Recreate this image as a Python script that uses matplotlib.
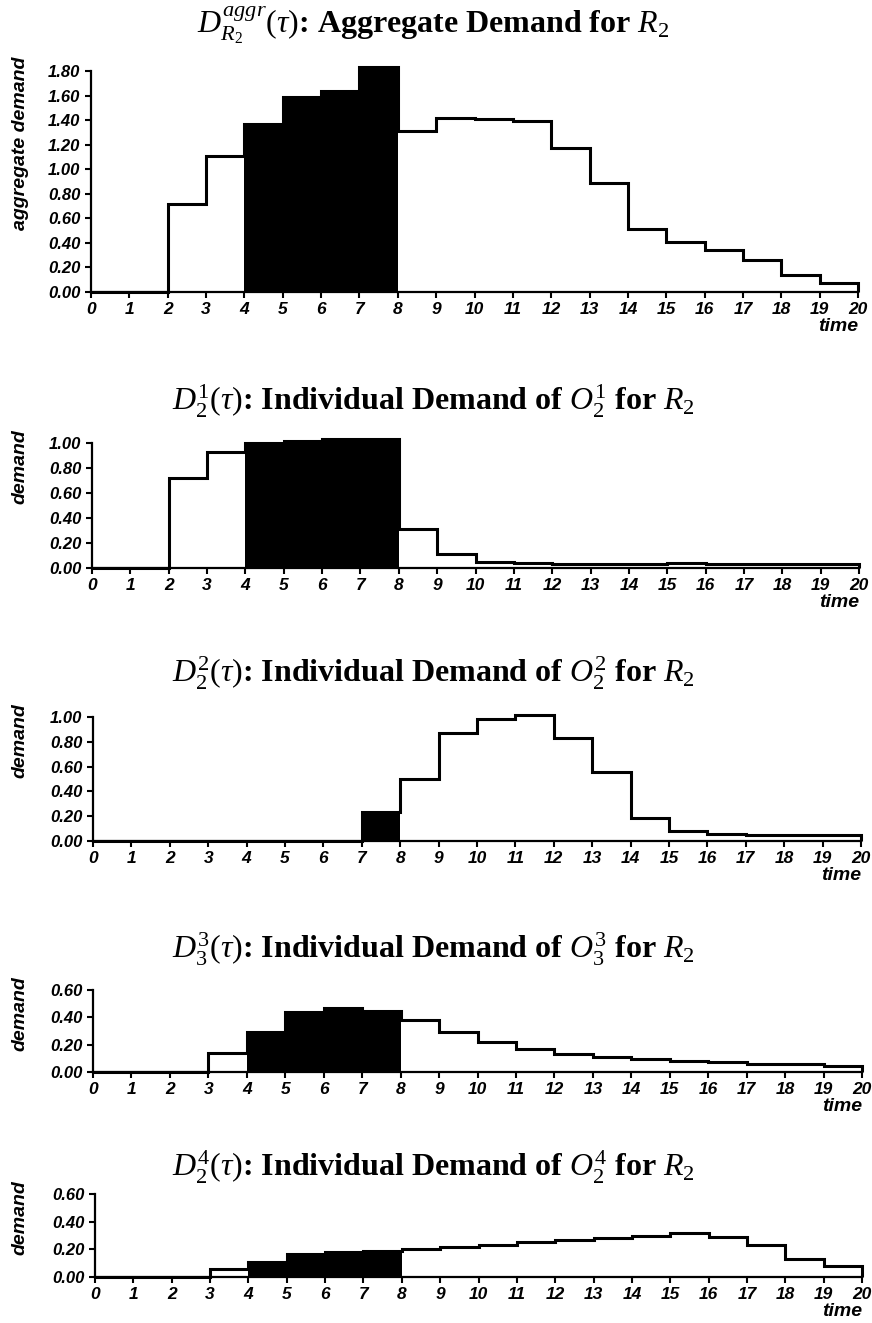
import numpy as np
import matplotlib
matplotlib.use("Agg")
import matplotlib.pyplot as plt

plt.rcParams["mathtext.fontset"] = "custom"
plt.rcParams["mathtext.rm"] = "Liberation Serif"
plt.rcParams["mathtext.it"] = "Liberation Serif:italic"
plt.rcParams["mathtext.bf"] = "Liberation Serif:bold"

# Datos: demanda por intervalo de tiempo (0..20)
tiempo = np.arange(0, 21)

demanda_agregada = [0, 0, 0.72, 1.11, 1.37, 1.59, 1.64, 1.83, 1.31, 1.42,
                    1.41, 1.39, 1.17, 0.89, 0.51, 0.41, 0.34, 0.26, 0.14, 0.07]
demanda_o1 = [0, 0, 0.72, 0.93, 1.00, 1.02, 1.03, 1.03, 0.31, 0.11,
              0.05, 0.04, 0.03, 0.03, 0.03, 0.04, 0.03, 0.03, 0.03, 0.03]
demanda_o2 = [0, 0, 0, 0, 0, 0, 0, 0.23, 0.50, 0.87,
              0.98, 1.02, 0.83, 0.56, 0.185, 0.08, 0.055, 0.045, 0.045, 0.045]
demanda_o3 = [0, 0, 0, 0.14, 0.29, 0.44, 0.47, 0.45, 0.38, 0.29,
              0.22, 0.17, 0.135, 0.11, 0.093, 0.08, 0.07, 0.06, 0.055, 0.047]
demanda_o4 = [0, 0, 0, 0.06, 0.11, 0.165, 0.18, 0.19, 0.205, 0.22,
              0.23, 0.25, 0.265, 0.28, 0.30, 0.32, 0.29, 0.23, 0.13, 0.08]

titulos = [
    r"$D^{aggr}_{R_2}(\tau)$: Aggregate Demand for $R_2$",
    r"$D^{1}_{2}(\tau)$: Individual Demand of $O^{1}_{2}$ for $R_2$",
    r"$D^{2}_{2}(\tau)$: Individual Demand of $O^{2}_{2}$ for $R_2$",
    r"$D^{3}_{3}(\tau)$: Individual Demand of $O^{3}_{3}$ for $R_2$",
    r"$D^{4}_{2}(\tau)$: Individual Demand of $O^{4}_{2}$ for $R_2$",
]
etiquetas_y = ["aggregate demand", "demand", "demand", "demand", "demand"]
series = [demanda_agregada, demanda_o1, demanda_o2, demanda_o3, demanda_o4]
maximos_y = [1.8, 1.0, 1.0, 0.6, 0.6]
tramos_negros = [(4, 8), (4, 8), (7, 8), (4, 8), (4, 8)]

# Posiciones de los ejes en pixeles (izq, der, cero, tope) y linea base del titulo
W, H = 872, 1323
cajas = [(91, 858, 292, 71), (92, 859, 568, 443), (93, 861, 841, 717),
         (93, 862, 1072, 990), (95, 862, 1277, 1194)]
base_titulo = [33, 410, 683, 958, 1177]

fig = plt.figure(figsize=(W / 100, H / 100), dpi=100)

for i in range(5):
    izq, der, cero, tope = cajas[i]
    ax = fig.add_axes([izq / W, 1 - cero / H, (der - izq) / W, (cero - tope) / H])
    valores = np.array(series[i])
    a, b = tramos_negros[i]
    ax.stairs(valores[a:b], tiempo[a:b + 1], fill=True, color="black",
              clip_on=False, zorder=2)
    ax.stairs(valores, tiempo, baseline=0, fill=False, color="black",
              linewidth=2.2, clip_on=False, zorder=3)

    ax.set_xlim(0, 20)
    ax.set_ylim(0, maximos_y[i])
    ax.set_xticks(tiempo)
    ax.set_yticks(np.arange(0, maximos_y[i] + 0.01, 0.2))
    ax.set_yticklabels([f"{v:.2f}" for v in np.arange(0, maximos_y[i] + 0.01, 0.2)])
    for s in ["top", "right"]:
        ax.spines[s].set_visible(False)
    for s in ["left", "bottom"]:
        ax.spines[s].set_linewidth(1.6)
    ax.tick_params(axis="both", direction="out", length=4, width=1.5)
    for lab in ax.get_xticklabels():
        lab.set_fontfamily("Liberation Sans")
        lab.set_fontweight("bold")
        lab.set_fontstyle("italic")
        lab.set_fontsize(12.5)
    for lab in ax.get_yticklabels():
        lab.set_fontfamily("Liberation Sans")
        lab.set_fontweight("bold")
        lab.set_fontstyle("italic")
        lab.set_fontsize(12)

    ax.annotate("time", xy=(1, 0), xycoords="axes fraction", xytext=(0, -25),
                textcoords="offset points", ha="right", va="center",
                fontfamily="Liberation Sans", fontweight="bold",
                fontstyle="italic", fontsize=14)
    ax.annotate(etiquetas_y[i], xy=(0, 1), xycoords="axes fraction",
                xytext=(-(izq - 20) * 0.72, 10), textcoords="offset points",
                rotation=90, ha="center", va="top",
                fontfamily="Liberation Sans", fontweight="bold",
                fontstyle="italic", fontsize=14)

    fig.text(0.497, 1 - base_titulo[i] / H, titulos[i], ha="center",
             va="baseline", fontfamily="Liberation Serif", fontweight="bold",
             fontsize=23)

plt.savefig("out.png", dpi=100)
plt.close()
